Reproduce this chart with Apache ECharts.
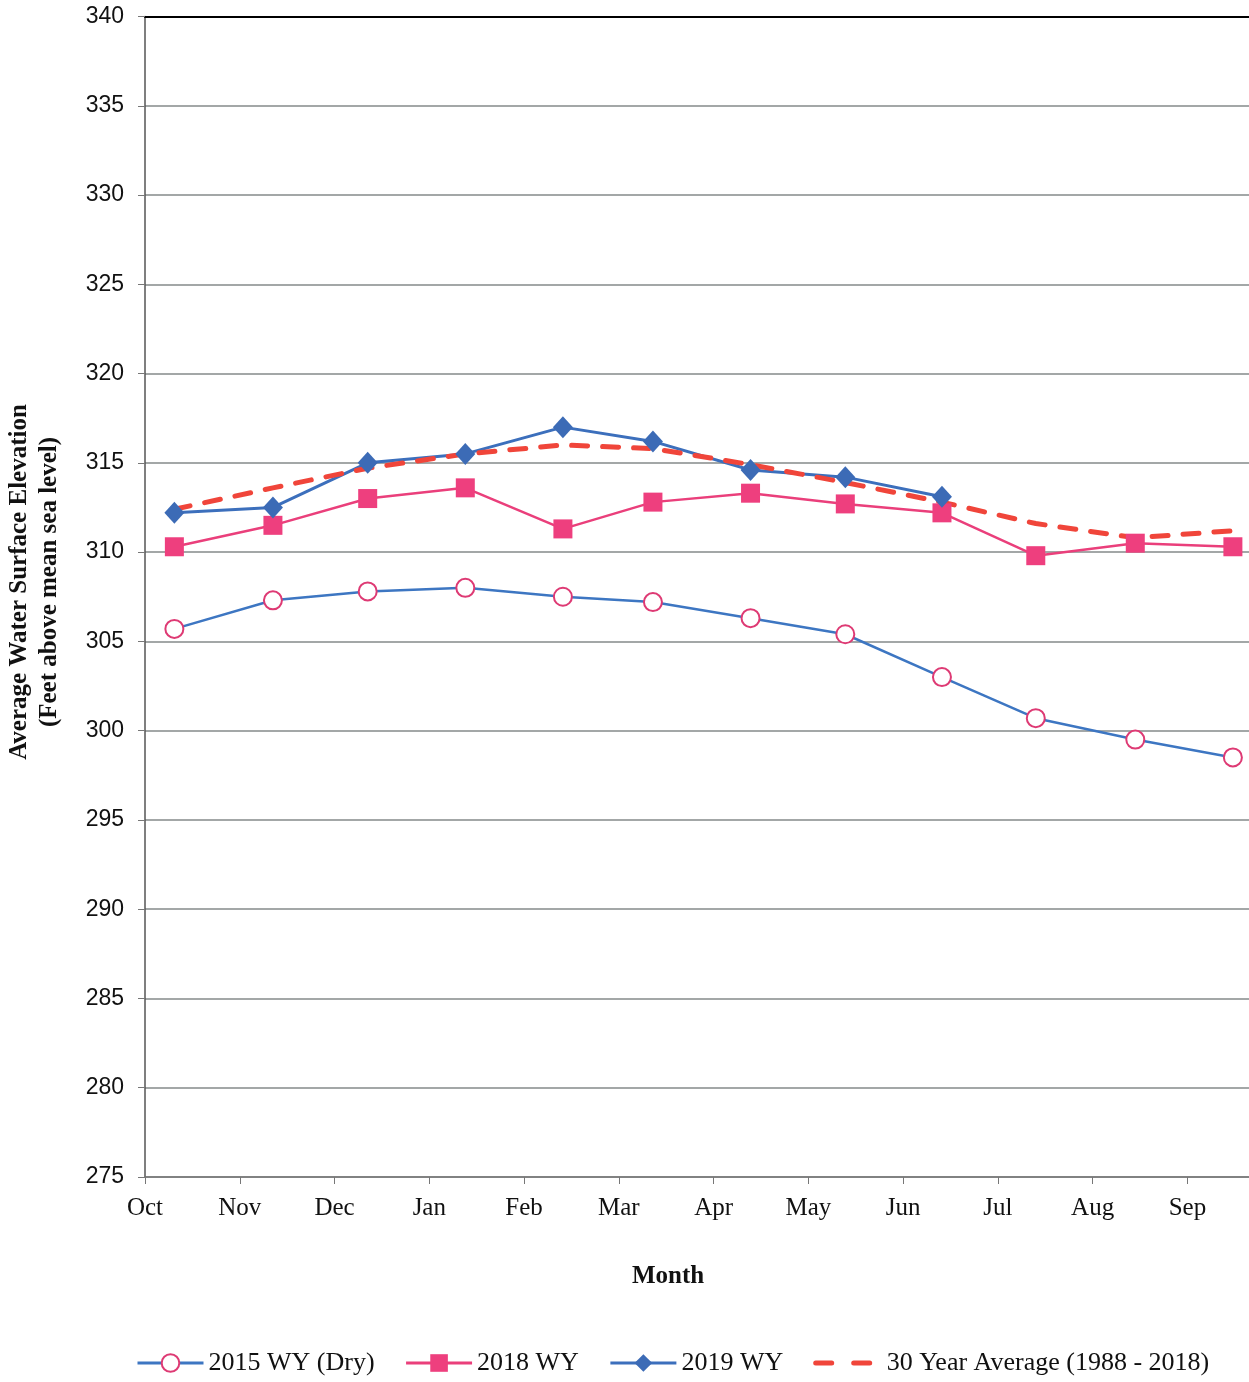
<!DOCTYPE html>
<html>
<head>
<meta charset="utf-8">
<script src="https://cdn.jsdelivr.net/npm/echarts@6/dist/echarts.min.js"></script>
<style>html,body{margin:0;padding:0;background:#fff;}#c{width:1249px;height:1382px;}</style>
</head>
<body>
<div id="c"></div>
<script>
// Month tick labels (x positions 0..11)
const months = ['Oct','Nov','Dec','Jan','Feb','Mar','Apr','May','Jun','Jul','Aug','Sep'];
// x position of each monthly data point (in month units from Oct tick)
const pointX = [0.31, 1.35, 2.35, 3.38, 4.41, 5.36, 6.39, 7.39, 8.41, 9.40, 10.45, 11.48];
// Series values (feet above mean sea level)
const wy2015 = [305.7, 307.3, 307.8, 308.0, 307.5, 307.2, 306.3, 305.4, 303.0, 300.7, 299.5, 298.5];
const wy2018 = [310.3, 311.5, 313.0, 313.6, 311.3, 312.8, 313.3, 312.7, 312.2, 309.8, 310.5, 310.3];
const wy2019 = [312.2, 312.5, 315.0, 315.5, 317.0, 316.2, 314.6, 314.2, 313.1];
const avg30 = [312.4, 313.6, 314.7, 315.5, 316.0, 315.8, 314.9, 313.9, 312.8, 311.6, 310.8, 311.2];
const yTicks = {min: 275, max: 340, step: 5};
const names = ['2015 WY (Dry)', '2018 WY', '2019 WY', '30 Year Average (1988 - 2018)'];

function pair(vals){ return vals.map((v,i)=>[pointX[i], v]); }

const serif = 'Liberation Serif';
const chart = echarts.init(document.getElementById('c'));
chart.setOption({
  backgroundColor: '#fff',
  animation: false,
  grid: {left: 145, right: 0, top: 16.5, bottom: 205},
  xAxis: [{
    type: 'value', min: 0, max: 11.65, interval: 1,
    axisLine: {show: true, onZero: false, lineStyle: {color: '#777', width: 1.5}},
    axisTick: {show: true, length: 7, inside: false, customValues: months.map((m,i)=>i), lineStyle: {color: '#777'}},
    axisLabel: {customValues: months.map((m,i)=>i), formatter: v => months[Math.round(v)] || '', fontFamily: serif, fontSize: 25, color: '#111', margin: 19},
    splitLine: {show: false}
  },{
    type: 'value', position: 'top', min: 0, max: 11.65,
    axisLine: {show: true, lineStyle: {color: '#000', width: 2}},
    axisTick: {show: false}, axisLabel: {show: false}, splitLine: {show: false}
  }],
  yAxis: {
    type: 'value', min: yTicks.min, max: yTicks.max, interval: yTicks.step,
    axisLine: {show: true, lineStyle: {color: '#555', width: 1.5}},
    axisTick: {show: true, length: 7, lineStyle: {color: '#777'}},
    axisLabel: {fontFamily: 'Liberation Sans', fontSize: 23, color: '#111', margin: 21},
    splitLine: {show: true, lineStyle: {color: '#858a8a', width: 1.6}}
  },
  legend: {
    left: 131, top: 1345, itemWidth: 66, itemHeight: 22, itemGap: 30,
    textStyle: {fontFamily: serif, fontSize: 26, color: '#111'},
    data: [
      {name: names[0], lineStyle: {width: 3}},
      {name: names[1], lineStyle: {width: 3}},
      {name: names[2], lineStyle: {width: 3}},
      {name: names[3], itemStyle: {opacity: 0}, lineStyle: {width: 5, type: [16, 22], cap: 'round', color: '#f0453a'}}
    ]
  },
  graphic: [
    {type: 'text', x: 35, y: 582, rotation: Math.PI/2,
     style: {text: 'Average Water Surface Elevation\n(Feet above mean sea level)', font: 'bold 25px "Liberation Serif"', fill: '#111', align: 'center', verticalAlign: 'middle', lineHeight: 30}},
    {type: 'text', x: 668, y: 1277,
     style: {text: 'Month', font: 'bold 25px "Liberation Serif"', fill: '#111', align: 'center', verticalAlign: 'middle'}}
  ],
  series: [
    {name: names[0], type: 'line', data: pair(wy2015), symbol: 'circle', symbolSize: 18,
     lineStyle: {color: '#3d76c2', width: 2.5},
     itemStyle: {color: '#fff', borderColor: '#de3a74', borderWidth: 2}},
    {name: names[1], type: 'line', data: pair(wy2018), symbol: 'rect', symbolSize: 19,
     lineStyle: {color: '#ea3f7b', width: 2.5},
     itemStyle: {color: '#ee3f7e', borderColor: '#ee3f7e', borderWidth: 0}},
    {name: names[2], type: 'line', data: pair(wy2019), symbol: 'diamond', symbolSize: [20, 22],
     lineStyle: {color: '#3c6fbc', width: 3},
     itemStyle: {color: '#3c6bb6', borderWidth: 0}},
    {name: names[3], type: 'line', data: pair(avg30), symbol: 'none',
     lineStyle: {color: '#f0453a', width: 5, type: [16, 15], cap: 'round'},
     itemStyle: {color: '#f0453a'}}
  ]
});
</script>
</body>
</html>
